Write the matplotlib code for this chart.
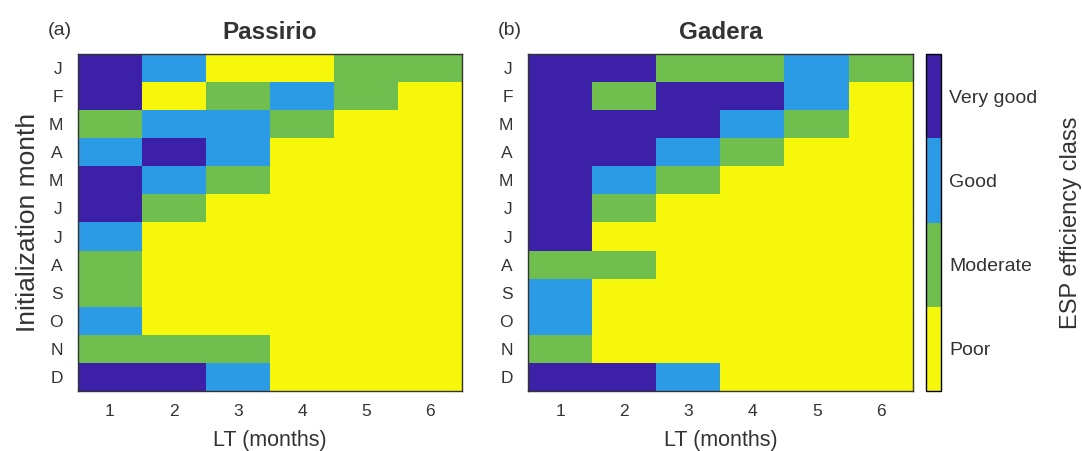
import numpy as np
import matplotlib
matplotlib.use("Agg")
import matplotlib.pyplot as plt
from matplotlib.colors import ListedColormap, BoundaryNorm

plt.rcParams['font.family'] = ['Liberation Sans', 'DejaVu Sans']

months = ["J", "F", "M", "A", "M", "J", "J", "A", "S", "O", "N", "D"]
lead_times = [1, 2, 3, 4, 5, 6]
classes = ["Poor", "Moderate", "Good", "Very good"]

# 0 = Poor, 1 = Moderate, 2 = Good, 3 = Very good ; rows Jan..Dec, cols LT 1..6
passirio = [
    [3, 2, 0, 0, 1, 1],
    [3, 0, 1, 2, 1, 0],
    [1, 2, 2, 1, 0, 0],
    [2, 3, 2, 0, 0, 0],
    [3, 2, 1, 0, 0, 0],
    [3, 1, 0, 0, 0, 0],
    [2, 0, 0, 0, 0, 0],
    [1, 0, 0, 0, 0, 0],
    [1, 0, 0, 0, 0, 0],
    [2, 0, 0, 0, 0, 0],
    [1, 1, 1, 0, 0, 0],
    [3, 3, 2, 0, 0, 0],
]
gadera = [
    [3, 3, 1, 1, 2, 1],
    [3, 1, 3, 3, 2, 0],
    [3, 3, 3, 2, 1, 0],
    [3, 3, 2, 1, 0, 0],
    [3, 2, 1, 0, 0, 0],
    [3, 1, 0, 0, 0, 0],
    [3, 0, 0, 0, 0, 0],
    [1, 1, 0, 0, 0, 0],
    [2, 0, 0, 0, 0, 0],
    [2, 0, 0, 0, 0, 0],
    [1, 0, 0, 0, 0, 0],
    [3, 3, 2, 0, 0, 0],
]

cmap = ListedColormap(["#f7f70c", "#70be4e", "#2b9be6", "#3c20a8"])
norm = BoundaryNorm([-0.5, 0.5, 1.5, 2.5, 3.5], cmap.N)

W, H = 1082, 451
fig = plt.figure(figsize=(W / 100, H / 100), dpi=100)

def px_axes(x0, x1, y0, y1):
    return fig.add_axes([x0 / W, 1 - y1 / H, (x1 - x0) / W, (y1 - y0) / H])

ax_a = px_axes(78, 462, 54, 391)
ax_b = px_axes(528, 913, 54, 391)
cax = px_axes(926, 941, 54, 391)

txt = "#333333"
for ax, data, title, tag in [(ax_a, passirio, "Passirio", "(a)"),
                             (ax_b, gadera, "Gadera", "(b)")]:
    im = ax.imshow(np.array(data), cmap=cmap, norm=norm, aspect="auto",
                   interpolation="nearest",
                   extent=[0.5, 6.5, 12.5, 0.5])
    ax.set_xticks(lead_times)
    ax.set_yticks(np.arange(1, 13))
    ax.set_yticklabels(months)
    ax.tick_params(axis="x", length=0, labelsize=12.5, colors=txt, pad=9)
    ax.tick_params(axis="y", length=0, labelsize=12.5, colors=txt, pad=11)
    ax.set_xlabel("LT (months)", fontsize=15.5, color=txt, labelpad=8)
    ax.set_title(title, fontsize=17.5, fontweight="bold", color=txt, pad=11)
    ax.text(-0.047, 1.07, tag, transform=ax.transAxes, fontsize=14,
            color=txt, ha="center", va="center")
    for s in ax.spines.values():
        s.set_linewidth(1.0)
        s.set_color("#333333")

ax_a.set_ylabel("Initialization month", fontsize=19, color=txt, labelpad=6)

cb = fig.colorbar(im, cax=cax, ticks=[0, 1, 2, 3])
cb.set_ticklabels(classes)
cb.ax.minorticks_off()
cb.ax.tick_params(which="both", length=0, labelsize=14, colors=txt, pad=6)
cb.outline.set_linewidth(1.0)
cb.set_label("ESP efficiency class", fontsize=17, color=txt, labelpad=16)

fig.savefig("out.png", dpi=100)
